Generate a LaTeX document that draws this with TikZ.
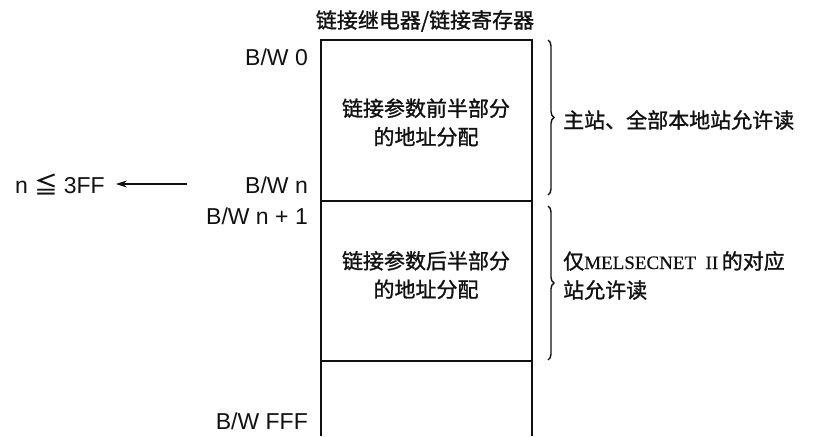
\documentclass[tikz,border=0pt]{standalone}
\usepackage{fontspec}
\usepackage{xcolor}
\usepackage{tikz}
\usetikzlibrary{arrows.meta, calc, decorations.pathreplacing}
\newfontfamily\cjk[FakeBold=1.2]{Noto Sans CJK SC}
\newfontfamily\lblfont{Liberation Sans}
\newfontfamily\netfont[FakeBold=0.6]{Liberation Serif}
\definecolor{kink}{HTML}{111111}
\tikzset{
  memframe/.style={draw=kink, line width=1.6pt},
  addrlbl/.style={anchor=east, inner sep=0pt, text=kink,
                  font=\fontsize{23}{26}\selectfont\lblfont},
  celltxt/.style={align=center, inner sep=0pt, text=kink,
                  font=\fontsize{21}{28.5}\selectfont\cjk},
  notetxt/.style={anchor=west, align=left, inner sep=0pt, text=kink,
                  font=\fontsize{21}{29}\selectfont\cjk},
  rbrace/.style={draw=kink, decorate, decoration={brace, amplitude=6pt},
                 line width=1.4pt},
  larrow/.style={-{Stealth[length=11pt, width=7pt]}, draw=kink, line width=1.2pt},
}

\begin{document}
\begin{tikzpicture}[x=1pt, y=-1pt]
  \useasboundingbox (0,0) rectangle (813,436);

  %% memory frame (open at the bottom)
  \draw[memframe] (321,436) -- (321,40) -- (532,40) -- (532,436);
  \draw[memframe] (321,201) -- (532,201);
  \draw[memframe] (321,361) -- (532,361);

  %% title
  \node[celltxt] (title) at (425,21) {链接继电器/链接寄存器};

  %% cell texts
  \node[celltxt] (first) at (426,122.5) {链接参数前半部分\\的地址分配};
  \node[celltxt] (second) at (426,275) {链接参数后半部分\\的地址分配};

  %% address labels
  \node[addrlbl] (bw0) at (308,57) {B/W 0};
  \node[addrlbl] (bwn) at (308,185) {B/W n};
  \node[addrlbl] (bwn1) at (308,216) {B/W n + 1};
  \node[addrlbl] (bwfff) at (308,421) {B/W FFF};

  %% limit for n
  \node[addrlbl, anchor=west] (nle) at (15,184) {n {\cjk ≦} 3FF};
  \coordinate (arrfrom) at (187,184);
  \draw[larrow, shorten >=11pt] (arrfrom) -- (arrfrom -| nle.east);

  %% braces and read rights
  \coordinate (b1top) at (548,40);
  \coordinate (b1bot) at (548,195);
  \coordinate (b2top) at (548,206);
  \coordinate (b2bot) at (548,360);
  \draw[rbrace] (b1top) -- (b1bot);
  \draw[rbrace] (b2top) -- (b2bot);
  \node[notetxt] (read1) at (563,120) {主站、全部本地站允许读};
  \node[notetxt] (read2) at (563,275.5)
    {仅{\netfont\fontsize{19}{20}\selectfont MELSECNET\ \ II}\,的对应\\站允许读};

\end{tikzpicture}
\end{document}
